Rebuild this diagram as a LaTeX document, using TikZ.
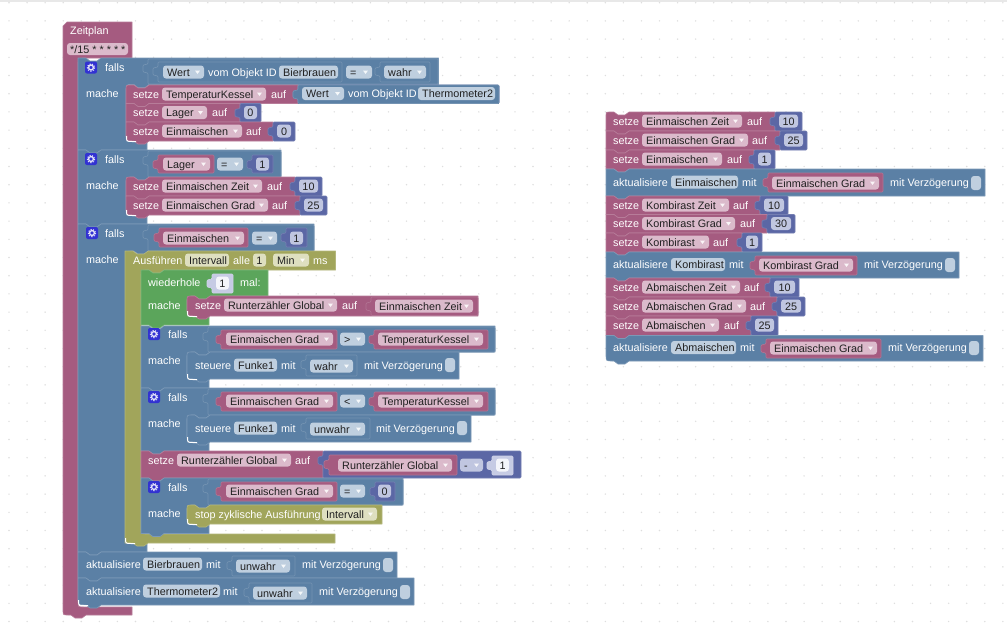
\documentclass[tikz,border=0pt]{standalone}
\usepackage{fontspec}
\setmainfont{Liberation Sans}
\definecolor{vP}{HTML}{A55B80}
\definecolor{vB}{HTML}{5B80A5}
\definecolor{vN}{HTML}{5B67A5}
\definecolor{vG}{HTML}{5BA55B}
\definecolor{vO}{HTML}{A1A55B}
\definecolor{fP}{HTML}{DBBACB}
\definecolor{fB}{HTML}{BFCFDF}
\definecolor{fN}{HTML}{C0C6E0}
\definecolor{fO}{HTML}{DEDFC0}
\definecolor{fS}{HTML}{C6CBE4}
\definecolor{txt}{HTML}{202020}
\definecolor{dotc}{HTML}{DEDEDE}
\definecolor{gearc}{HTML}{3232D2}
\tikzset{
 blk/.style={line width=.6pt,line join=round},
 lab/.style={anchor=base west,inner sep=0pt,text=white,font=\fontsize{10.8}{12}\selectfont},
 ftx/.style={anchor=base west,inner sep=0pt,text=txt,font=\fontsize{10.8}{12}\selectfont},
 ftc/.style={anchor=base,inner sep=0pt,text=txt,font=\fontsize{10.8}{12}\selectfont},
}
\newcommand\stmt[7]{\filldraw[blk,fill=#1,draw=#1!80!white]
 (#2,#3+#6) .. controls (#2,#3) .. (#2+#6,#3) -- (#2+8,#3) -- (#2+12,#3+3) -- (#2+19,#3+3) -- (#2+23,#3) -- (#4,#3) -- (#4,#5) -- (#2+23,#5) -- (#2+19,#5+3) -- (#2+12,#5+3) -- (#2+8,#5) -- (#2+#7,#5) .. controls (#2,#5) .. (#2,#5-#7) -- cycle;}
\newcommand\cblk[9]{\filldraw[blk,fill=#1,draw=#1!80!white]
 (#2,#3) -- (#2+8,#3) -- (#2+12,#3+3) -- (#2+19,#3+3) -- (#2+23,#3) -- (#4,#3) -- (#4,#5) -- (#6+23,#5) -- (#6+19,#5+3) -- (#6+12,#5+3) -- (#6+8,#5) -- (#6+6,#5) .. controls (#6,#5) .. (#6,#5+6) -- (#6,#7-6) .. controls (#6,#7) .. (#6+6,#7) -- (#9,#7) -- (#9,#8) -- (#2+23,#8) -- (#2+19,#8+3) -- (#2+12,#8+3) -- (#2+8,#8) -- (#2,#8) -- cycle;}
\newcommand\val[5]{\filldraw[blk,fill=#1,draw=#1!85!white,rounded corners=1pt]
 (#2,#3) -- (#4,#3) -- (#4,#5) -- (#2,#5) -- (#2,#3+14) -- (#2-5,#3+13) -- (#2-5,#3+6) -- (#2,#3+5) -- cycle;}
\newcommand\lb[3]{\node[lab] at (#1,#2+4) {#3};}
\newcommand\fn[5]{\fill[#1,rounded corners=3pt] (#2,#4-6.5) rectangle (#3,#4+6.5); \node[ftx] at (#2+4,#4+4) {#5};}
\newcommand\fd[5]{\fn{#1}{#2}{#3}{#4}{#5}\fill[white!85!#1] (#3-9,#4-1.5) -- (#3-4,#4-1.5) -- (#3-6.5,#4+2) -- cycle;}
\newcommand\fc[5]{\fill[#1,rounded corners=3pt] (#2,#4-6.5) rectangle (#3,#4+6.5); \node[ftc] at ({(#2+#3)/2},#4+4) {#5};}
\newcommand\chk[2]{\fill[fB,rounded corners=3pt] (#1,#2-7) rectangle (#1+10,#2+7);}
\newcommand\gear[2]{\fill[gearc,rounded corners=2pt] (#1-6,#2-6) rectangle (#1+6,#2+6);
 \draw[white!85!gearc,line width=1.3pt] (#1,#2) circle (2.4);
 \draw[white!85!gearc,line width=1.2pt,dash pattern=on 1.2pt off 1.3pt] (#1,#2) circle (3.6);}
\newcommand\cres[2]{\draw[white,line width=1pt] (#1+.5,#2-5) .. controls (#1+.5,#2+.5) .. (#1+6,#2+.5) -- (#1+10,#2+.5);}
\def\tlr{0}\def\blr{0}
\newcommand\corners[2]{\def\tlr{#1}\def\blr{#2}}
% x y1 y2 fieldx2 text aufx endx num right
\newcommand\setrow[9]{\stmt{vP}{#1}{#2}{#7}{#3}{\tlr}{\blr}\val{vN}{#7}{#2}{#9}{#3}
 \lb{#1+7}{#2+9}{setze}\fd{fP}{#1+36}{#4}{#2+9}{#5}\lb{#6}{#2+9}{auf}\fc{fN}{#7+4}{#9-4}{#2+9}{#8}\corners{0}{0}}
\begin{document}
\begin{tikzpicture}[x=1pt,y=-1pt]
\useasboundingbox (0,0) rectangle (1007,622);
\fill[white] (0,0) rectangle (1007,622);
\fill[gray!18] (0,0) rectangle (1007,2);
\foreach \i in {0,...,55}{\foreach \j in {0,...,34}{\fill[dotc] (\i*18.07+9,\j*18.2+2.7) circle (.8);}}

% ---------- Zeitplan ----------
\filldraw[blk,fill=vP,draw=vP!80!white] (63,26) -- (67,22) -- (132,22) -- (132,58) -- (84,58) .. controls (78,58) .. (78,64) -- (78,601) .. controls (78,607) .. (84,607) -- (132,607) -- (132,615) -- (86,615) -- (82,618) -- (75,618) -- (71,615) -- (68,615) .. controls (63,615) .. (63,610) -- cycle;
\lb{70}{30}{Zeitplan}
\fill[fP,rounded corners=3pt] (67,43) rectangle (128,55);
\node[ftx] at (70,53) {*/15 * * * * *};

% ---------- falls 1 ----------
\cblk{vB}{78}{58}{438.5}{84.5}{126}{141}{150}{147}
\gear{91}{67.5}\lb{105}{67}{falls}\lb{86}{93}{mache}
\val{vB}{148}{59}{438}{84}
\val{vB}{158}{62}{342}{82}
\fd{fB}{163}{204}{72}{Wert}\lb{208}{72}{vom Objekt ID}\fn{fB}{279}{338}{72}{Bierbrauen}
\fd{fB}{346}{372}{72}{=}
\val{vB}{380}{62}{430}{82}\fd{fB}{384}{426}{72}{wahr}
\corners{5}{0}\setrow{126}{85}{103.5}{266}{TemperaturKessel}{271}{298}{}{499}
\fill[vB] (298,85.5) rectangle (499,103.5);
\val{vB}{298}{85}{499}{103.5}
\fd{fB}{302}{344}{93.5}{Wert}\lb{348}{93.5}{vom Objekt ID}\fn{fB}{418}{495}{93.5}{Thermometer2}
\setrow{126}{103.5}{122}{207}{Lager}{212}{240}{0}{261}
\corners{0}{6}\setrow{126}{122}{141}{242}{Einmaischen}{246}{273}{0}{295}
\cres{126}{141}

% ---------- falls 2 ----------
\cblk{vB}{78}{150}{281}{177}{126}{215}{224}{147}
\gear{91}{159}\lb{105}{159}{falls}\lb{86}{185}{mache}
\val{vB}{148}{151}{281}{177}
\val{vP}{158}{155}{214}{173}\fd{fP}{163}{210}{164}{Lager}
\fd{fB}{217}{243}{164}{=}
\val{vN}{252}{155}{273}{173}\fc{fN}{256}{269}{164}{1}
\corners{5}{0}\setrow{126}{177}{196}{262}{Einmaischen Zeit}{267}{295}{10}{322}
\corners{0}{6}\setrow{126}{196}{215}{268}{Einmaischen Grad}{272}{300}{25}{327}
\cres{126}{215}

% ---------- falls 3 ----------
\cblk{vB}{78}{224}{314}{251}{126}{543}{552}{147}
\gear{92}{233}\lb{105}{233}{falls}\lb{86}{259}{mache}
\val{vB}{148}{225}{314}{251}
\val{vP}{159}{228}{248}{247}\fd{fP}{163}{244}{238}{Einmaischen}
\fd{fB}{252}{277}{238}{=}
\val{vN}{286}{228}{307}{247}\fc{fN}{290}{303}{238}{1}

% ---------- Ausfuehren ----------
\cblk{vO}{125}{251}{335.5}{270}{141}{534}{543}{335}
\lb{133}{260}{Ausführen}\fn{fO}{185}{229}{260}{Intervall}\lb{233}{260}{alle}
\fc{fO}{253}{266}{260}{1}\fd{fO}{273}{309}{260}{Min}\lb{313}{260}{ms}
\cres{125}{543}

% ---------- wiederhole ----------
\cblk{vG}{141}{270}{268}{296}{187}{316}{325}{209}
\lb{148}{282}{wiederhole}
\val{fS}{212}{274}{233}{293}
\fc{white!80!fS}{216}{229}{283}{1}
\lb{240}{282}{mal:}\lb{148}{305}{mache}
\corners{5}{6}\stmt{vP}{187}{296}{478}{316}{\tlr}{\blr}\corners{0}{0}
\lb{195}{305}{setze}\fd{fP}{224}{337}{305}{Runterzähler Global}\lb{342}{305}{auf}
\val{vP}{371}{297}{478}{315.5}\fd{fP}{375}{473}{306}{Einmaischen Zeit}
\cres{187}{316}

% ---------- falls inner 1 ----------
\cblk{vB}{141}{326}{495}{352}{187}{379}{388}{209}
\gear{154}{334}\lb{168}{334}{falls}\lb{148}{360}{mache}
\val{vB}{208}{327}{495}{352}
\val{vP}{221}{330}{337}{349}\fd{fP}{226}{333}{339}{Einmaischen Grad}
\fd{fB}{340}{365}{339}{>}
\val{vP}{374}{330}{488}{349}\fd{fP}{378}{483}{339}{TemperaturKessel}
\corners{5}{6}\stmt{vB}{187}{352}{459}{379}{\tlr}{\blr}\corners{0}{0}
\lb{195}{365}{steuere}\fn{fB}{234}{277}{365}{Funke1}\lb{281}{365}{mit}
\val{vB}{306}{355}{357}{376}\fd{fB}{310}{353}{366}{wahr}
\lb{364}{365}{mit Verzögerung}\chk{445}{365}
\cres{187}{379}

% ---------- falls inner 2 ----------
\cblk{vB}{141}{388}{495}{415}{187}{442}{451}{209}
\gear{154}{397}\lb{168}{397}{falls}\lb{148}{423}{mache}
\val{vB}{208}{389}{495}{415}
\val{vP}{221}{392}{337}{411}\fd{fP}{226}{333}{401}{Einmaischen Grad}
\fd{fB}{340}{365}{401}{<}
\val{vP}{374}{392}{488}{411}\fd{fP}{378}{483}{401}{TemperaturKessel}
\corners{5}{6}\stmt{vB}{187}{415}{471}{442}{\tlr}{\blr}\corners{0}{0}
\lb{195}{428}{steuere}\fn{fB}{234}{277}{428}{Funke1}\lb{281}{428}{mit}
\val{vB}{306}{418}{370}{439}\fd{fB}{310}{365}{429}{unwahr}
\lb{376}{428}{mit Verzögerung}\chk{457}{428}
\cres{187}{442}

% ---------- setze Runterzaehler ----------
\stmt{vP}{141}{451}{323}{478}{0}{0}
\lb{148}{460}{setze}\fd{fP}{177}{291}{460}{Runterzähler Global}\lb{295}{460}{auf}
\val{vN}{323}{451}{521}{478}
\val{vP}{329}{455}{457}{475}\fd{fP}{338}{452}{465}{Runterzähler Global}
\fd{fN}{460}{483}{465}{-}
\val{fS}{492}{456}{513}{475}\fc{white!80!fS}{496}{509}{465}{1}

% ---------- falls inner 3 ----------
\cblk{vB}{141}{478}{403}{505}{187}{524}{533.5}{209}
\gear{154}{487}\lb{168}{487}{falls}\lb{148}{513}{mache}
\val{vB}{208}{479}{403}{505}
\val{vP}{221}{482}{337}{501}\fd{fP}{226}{333}{491}{Einmaischen Grad}
\fd{fB}{340}{365}{491}{=}
\val{vN}{375}{482}{395}{501}\fc{fN}{378}{391}{491}{0}
\corners{5}{6}\stmt{vO}{187}{505}{382}{524}{\tlr}{\blr}\corners{0}{0}
\lb{195}{514}{stop zyklische Ausführung}\fd{fO}{322}{377}{514}{Intervall}
\cres{187}{524}

% ---------- aktualisiere ----------
\stmt{vB}{78}{552}{397}{578}{0}{0}
\lb{86}{564}{aktualisiere}\fn{fB}{143}{202}{564}{Bierbrauen}\lb{206}{564}{mit}
\val{vB}{232}{556}{295}{576}\fd{fB}{236}{290}{566}{unwahr}
\lb{302}{564}{mit Verzögerung}\chk{383}{565}
\stmt{vB}{78}{578}{414}{605}{0}{6}
\lb{86}{591}{aktualisiere}\fn{fB}{143}{220}{591}{Thermometer2}\lb{223}{591}{mit}
\val{vB}{249}{583}{312}{603}\fd{fB}{253}{307}{593}{unwahr}
\lb{319}{591}{mit Verzögerung}\chk{400}{592}
\cres{78}{605}

% ---------- right stack ----------
\corners{3}{0}\setrow{606}{112}{131}{742}{Einmaischen Zeit}{747}{775}{10}{802}
\setrow{606}{131}{150}{748}{Einmaischen Grad}{752}{780}{25}{807}
\setrow{606}{150}{169}{722}{Einmaischen}{727}{754}{1}{775}
\stmt{vB}{606}{169}{985}{196}{0}{0}
\lb{613}{182}{aktualisiere}\fn{fB}{671}{738}{182}{Einmaischen}\lb{742}{182}{mit}
\val{vP}{768}{173}{883}{192}\fd{fP}{772}{879}{183}{Einmaischen Grad}
\lb{890}{182}{mit Verzögerung}\chk{971}{183}
\setrow{606}{196}{214.5}{729}{Kombirast Zeit}{733}{760}{10}{788}
\setrow{606}{214.5}{233}{735}{Kombirast Grad}{740}{767}{30}{795}
\setrow{606}{233}{252}{709}{Kombirast}{713}{742}{1}{762}
\stmt{vB}{606}{252}{959}{278}{0}{0}
\lb{613}{264.5}{aktualisiere}\fn{fB}{671}{725}{264.5}{Kombirast}\lb{729}{264.5}{mit}
\val{vP}{755}{256}{857}{275}\fd{fP}{759}{853}{265}{Kombirast Grad}
\lb{864}{264.5}{mit Verzögerung}\chk{945}{265}
\setrow{606}{278}{297}{740}{Abmaischen Zeit}{744}{770}{10}{799}
\setrow{606}{297}{316}{746}{Abmaischen Grad}{750}{777}{25}{805}
\setrow{606}{316}{335.5}{719}{Abmaischen}{724}{751}{25}{778}
\stmt{vB}{606}{335.5}{983}{361}{0}{6}
\lb{613}{347.5}{aktualisiere}\fn{fB}{671}{736}{347.5}{Abmaischen}\lb{740}{347.5}{mit}
\val{vP}{766}{339}{881}{358}\fd{fP}{770}{877}{348}{Einmaischen Grad}
\lb{888}{347.5}{mit Verzögerung}\chk{969}{348}
\end{tikzpicture}
\end{document}
